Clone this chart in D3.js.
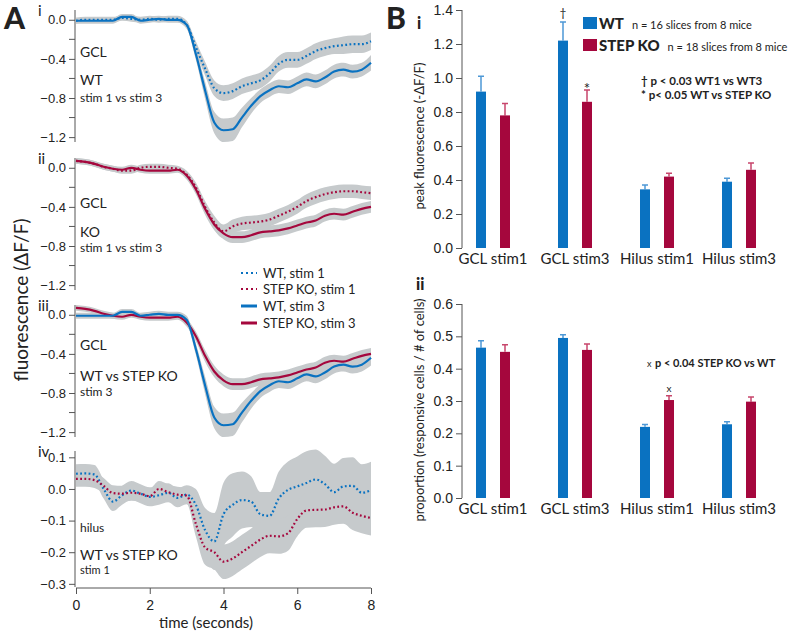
<!DOCTYPE html>
<html>
<head>
<meta charset="utf-8">
<script src="https://cdn.jsdelivr.net/npm/d3@7"></script>
<style>
body { margin: 0; background: #fff; }
svg { font-family: Lato, "Open Sans", sans-serif; }
</style>
</head>
<body>
<svg id="fig" width="800" height="637"></svg>
<script>
'use strict';

// ---- data: panel A traces (dF/F), sampled every 0.25 s ----
var times = [0, 0.25, 0.5, 0.75, 1, 1.25, 1.5, 1.75, 2, 2.25, 2.5, 2.75, 3, 3.25, 3.5, 3.75,
    4, 4.25, 4.5, 4.75, 5, 5.25, 5.5, 5.75, 6, 6.25, 6.5, 6.75, 7, 7.25, 7.5, 7.75, 8];

var gclWT1 = [-0.01, 0.0, 0.0, 0.0, 0.0, 0.02, 0.01, 0.0, 0.01, 0.0, 0.01, 0.01, -0.05, -0.28, -0.5, -0.7,
    -0.75, -0.73, -0.68, -0.65, -0.62, -0.55, -0.45, -0.41, -0.41, -0.37, -0.32, -0.29, -0.27, -0.26, -0.25, -0.25, -0.22];
var gclWT1Sem = [0.03, 0.03, 0.03, 0.03, 0.03, 0.03, 0.03, 0.03, 0.03, 0.03, 0.03, 0.03, 0.04, 0.06, 0.07, 0.08,
    0.08, 0.08, 0.08, 0.08, 0.08, 0.08, 0.08, 0.08, 0.08, 0.08, 0.08, 0.08, 0.08, 0.09, 0.09, 0.09, 0.09];

var gclWT3 = [-0.01, -0.01, -0.01, -0.01, -0.01, 0.03, 0.03, -0.01, 0.0, 0.01, 0.0, 0.0, -0.05, -0.35, -0.72, -1.05,
    -1.13, -1.12, -1.0, -0.88, -0.78, -0.72, -0.68, -0.69, -0.65, -0.61, -0.63, -0.59, -0.53, -0.51, -0.53, -0.51, -0.44];
var gclWT3Sem = [0.03, 0.03, 0.03, 0.03, 0.03, 0.03, 0.03, 0.03, 0.03, 0.03, 0.03, 0.03, 0.04, 0.06, 0.09, 0.11,
    0.12, 0.12, 0.1, 0.08, 0.07, 0.07, 0.07, 0.07, 0.07, 0.07, 0.07, 0.07, 0.07, 0.07, 0.07, 0.07, 0.08];

var gclKO1 = [0.07, 0.06, 0.04, 0.01, -0.01, -0.03, -0.03, 0.0, 0.01, 0.01, 0.0, -0.01, -0.07, -0.2, -0.4, -0.56,
    -0.65, -0.6, -0.57, -0.56, -0.55, -0.53, -0.49, -0.45, -0.4, -0.34, -0.3, -0.27, -0.25, -0.24, -0.24, -0.25, -0.26];
var gclKO1Sem = [0.03, 0.03, 0.03, 0.03, 0.03, 0.03, 0.03, 0.03, 0.03, 0.03, 0.03, 0.03, 0.04, 0.05, 0.06, 0.07,
    0.07, 0.07, 0.07, 0.07, 0.07, 0.07, 0.07, 0.07, 0.07, 0.07, 0.07, 0.07, 0.07, 0.07, 0.07, 0.07, 0.07];

var gclKO3 = [0.07, 0.06, 0.04, 0.01, -0.01, -0.02, 0.0, -0.02, -0.03, -0.03, -0.03, -0.02, -0.08, -0.22, -0.42, -0.58,
    -0.67, -0.71, -0.71, -0.69, -0.66, -0.65, -0.64, -0.62, -0.59, -0.56, -0.54, -0.49, -0.47, -0.48, -0.45, -0.42, -0.4];
var gclKO3Sem = [0.03, 0.03, 0.03, 0.03, 0.03, 0.03, 0.03, 0.03, 0.03, 0.03, 0.03, 0.03, 0.04, 0.05, 0.06, 0.06,
    0.06, 0.06, 0.06, 0.06, 0.06, 0.06, 0.06, 0.06, 0.06, 0.06, 0.06, 0.06, 0.06, 0.06, 0.06, 0.06, 0.06];

var hilWT1 = [0.048, 0.049, 0.046, 0.0, -0.04, -0.02, -0.005, -0.015, -0.025, -0.02, -0.012, -0.028, -0.018, -0.05, -0.13, -0.166,
    -0.08, -0.05, -0.035, -0.04, -0.08, -0.085, -0.03, -0.003, 0.008, 0.019, 0.03, 0.015, -0.01, 0.008, 0.01, -0.012, -0.004];
var hilWT1Sem = [0.03, 0.03, 0.03, 0.03, 0.03, 0.03, 0.03, 0.03, 0.03, 0.03, 0.03, 0.03, 0.03, 0.05, 0.07, 0.09,
    0.1, 0.1, 0.09, 0.08, 0.07, 0.075, 0.085, 0.09, 0.095, 0.1, 0.095, 0.09, 0.09, 0.09, 0.09, 0.09, 0.09];

var hilKO1 = [0.032, 0.032, 0.028, 0.01, -0.013, -0.015, -0.012, -0.015, -0.023, 0.0, -0.01, -0.018, -0.021, -0.11, -0.185, -0.2,
    -0.23, -0.22, -0.2, -0.18, -0.16, -0.148, -0.15, -0.14, -0.095, -0.068, -0.066, -0.065, -0.058, -0.055, -0.075, -0.085, -0.092];
var hilKO1Sem = [0.025, 0.025, 0.025, 0.025, 0.025, 0.025, 0.025, 0.025, 0.025, 0.025, 0.025, 0.025, 0.025, 0.04, 0.055, 0.055,
    0.055, 0.055, 0.055, 0.055, 0.055, 0.055, 0.055, 0.055, 0.055, 0.055, 0.055, 0.055, 0.055, 0.055, 0.055, 0.055, 0.055];

var timeTicks = [0, 2, 4, 6, 8];
var gclTicks = [0, -0.4, -0.8, -1.2];
var gclMinorTicks = [-0.2, -0.6, -1.0];
var hilTicks = [0.1, 0, -0.1, -0.2, -0.3];

// ---- data: panel B bars ----
var groups = ["GCL stim1", "GCL stim3", "Hilus stim1", "Hilus stim3"];
var peakWT = [0.92, 1.22, 0.345, 0.39];
var peakWTErr = [0.09, 0.11, 0.025, 0.02];
var peakKO = [0.78, 0.86, 0.42, 0.46];
var peakKOErr = [0.07, 0.07, 0.02, 0.04];
var propWT = [0.465, 0.495, 0.22, 0.228];
var propWTErr = [0.021, 0.01, 0.007, 0.008];
var propKO = [0.452, 0.458, 0.303, 0.298];
var propKOErr = [0.022, 0.018, 0.013, 0.014];
var peakTicks = [0, 0.2, 0.4, 0.6, 0.8, 1.0, 1.2, 1.4];
var propTicks = [0, 0.1, 0.2, 0.3, 0.4, 0.5, 0.6];

var BLUE = "#0a72c1";
var RED = "#a5073d";
var BLUE_ERR = "#4d98d6";
var RED_ERR = "#c8466c";
var BAND = "#c6cacc";
var INK = "#222";

var svg = d3.select("#fig");

// ================= panel A =================
var x = d3.scaleLinear().domain([0, 8]).range([76, 371]);

function tsPoints(vals, sem) {
    return times.map(function (t, i) { return { t: t, v: vals[i], s: sem[i] }; });
}

function drawTracePanel(cfg) {
    var y = d3.scaleLinear().domain(cfg.domain).range(cfg.range);
    var g = svg.append("g");

    var area = d3.area()
        .curve(d3.curveMonotoneX)
        .x(function (d) { return x(d.t); })
        .y0(function (d) { return y(d.v - d.s); })
        .y1(function (d) { return y(d.v + d.s); });

    var line = d3.line()
        .curve(d3.curveMonotoneX)
        .x(function (d) { return x(d.t); })
        .y(function (d) { return y(d.v); });

    cfg.series.forEach(function (s) {
        g.append("path").attr("d", area(tsPoints(s.vals, s.sem)))
            .attr("fill", BAND).attr("stroke", "none");
    });
    cfg.series.forEach(function (s) {
        g.append("path").attr("d", line(tsPoints(s.vals, s.sem)))
            .attr("fill", "none")
            .attr("stroke", s.color)
            .attr("stroke-width", 2.2)
            .attr("stroke-dasharray", s.dotted ? "1.8,2.4" : null);
    });

    var ax = g.append("g").attr("transform", "translate(75,0)")
        .call(d3.axisLeft(y).tickValues(cfg.ticks).tickSize(6).tickPadding(3)
            .tickFormat(d3.format(".1f")));
    ax.select(".domain").attr("d", "M0," + cfg.range[0] + "V" + cfg.range[1]).attr("stroke", "#555");
    ax.selectAll(".tick line").attr("stroke", "#555");
    ax.selectAll("text").attr("font-size", 13).attr("fill", INK);
    if (cfg.minor) {
        ax.selectAll(".minor").data(cfg.minor).enter().append("line")
            .attr("x1", -6).attr("x2", 0)
            .attr("y1", function (d) { return y(d); })
            .attr("y2", function (d) { return y(d); })
            .attr("stroke", "#555");
    }

    g.append("text").attr("x", 38).attr("y", cfg.range[0] + 6)
        .attr("font-size", 15).attr("fill", INK).text(cfg.numeral);

    cfg.notes.forEach(function (n) {
        g.append("text").attr("x", 80).attr("y", n.y)
            .attr("font-size", n.size).attr("fill", INK).text(n.text);
    });
    return y;
}

drawTracePanel({
    domain: [0.1, -1.25], range: [10, 142], ticks: gclTicks, minor: gclMinorTicks, numeral: "i",
    series: [
        { vals: gclWT1, sem: gclWT1Sem, color: BLUE, dotted: true },
        { vals: gclWT3, sem: gclWT3Sem, color: BLUE, dotted: false }
    ],
    notes: [
        { text: "GCL", y: 57, size: 14 },
        { text: "WT", y: 85, size: 14 },
        { text: "stim 1 vs stim 3", y: 102, size: 12 }
    ]
});

drawTracePanel({
    domain: [0.1, -1.25], range: [158, 290], ticks: gclTicks, minor: gclMinorTicks, numeral: "ii",
    series: [
        { vals: gclKO1, sem: gclKO1Sem, color: RED, dotted: true },
        { vals: gclKO3, sem: gclKO3Sem, color: RED, dotted: false }
    ],
    notes: [
        { text: "GCL", y: 208, size: 14 },
        { text: "KO", y: 237, size: 14 },
        { text: "stim 1 vs stim 3", y: 252, size: 12 }
    ]
});

drawTracePanel({
    domain: [0.1, -1.25], range: [305, 437], ticks: gclTicks, minor: gclMinorTicks, numeral: "iii",
    series: [
        { vals: gclKO3, sem: gclKO3Sem, color: RED, dotted: false },
        { vals: gclWT3, sem: gclWT3Sem, color: BLUE, dotted: false }
    ],
    notes: [
        { text: "GCL", y: 350, size: 14 },
        { text: "WT vs STEP KO", y: 381, size: 14 },
        { text: "stim 3", y: 396, size: 12 }
    ]
});

drawTracePanel({
    domain: [0.12, -0.31], range: [451, 587], ticks: hilTicks, minor: null, numeral: "iv",
    series: [
        { vals: hilWT1, sem: hilWT1Sem, color: BLUE, dotted: true },
        { vals: hilKO1, sem: hilKO1Sem, color: RED, dotted: true }
    ],
    notes: [
        { text: "hilus", y: 532, size: 12 },
        { text: "WT vs STEP KO", y: 560, size: 14 },
        { text: "stim 1", y: 574, size: 11 }
    ]
});

// time axis
var xAx = svg.append("g").attr("transform", "translate(0,588)")
    .call(d3.axisBottom(x).tickValues(timeTicks).tickSize(6).tickPadding(6).tickFormat(d3.format("d")));
xAx.select(".domain").attr("d", "M" + x(0) + ",0H" + x(8)).attr("stroke", "#555");
xAx.selectAll(".tick line").attr("stroke", "#555");
xAx.selectAll("text").attr("font-size", 14).attr("fill", INK);
svg.append("text").attr("x", 206).attr("y", 628).attr("text-anchor", "middle")
    .attr("font-size", 15).attr("fill", INK).text("time (seconds)");

svg.append("text").attr("transform", "translate(28,300) rotate(-90)")
    .attr("text-anchor", "middle").attr("font-size", 19).attr("fill", INK)
    .text("fluorescence (\u0394F/F)");

svg.append("text").attr("x", 4).attr("y", 29).attr("font-size", 30)
    .attr("font-weight", 900).attr("fill", INK).text("A");

// legend for A
var legendA = [
    { label: "WT, stim 1", color: BLUE, dotted: true, y: 273 },
    { label: "STEP KO, stim 1", color: RED, dotted: true, y: 289 },
    { label: "WT, stim 3", color: BLUE, dotted: false, y: 306 },
    { label: "STEP KO, stim 3", color: RED, dotted: false, y: 323 }
];
legendA.forEach(function (d) {
    svg.append("line").attr("x1", 241).attr("x2", 257).attr("y1", d.y).attr("y2", d.y)
        .attr("stroke", d.color).attr("stroke-width", d.dotted ? 2.2 : 3)
        .attr("stroke-dasharray", d.dotted ? "2,3" : null);
    svg.append("text").attr("x", 263).attr("y", d.y + 5).attr("font-size", 13)
        .attr("fill", INK).text(d.label);
});

// ================= panel B =================
var gx = d3.scaleBand().domain(groups).range([452, 780]);
var sub = d3.scalePoint().domain(["WT", "KO"]).range([-12, 12]);
var BAR_W = 10;

function drawBarPanel(cfg) {
    var y = d3.scaleLinear().domain(cfg.domain).range(cfg.range);
    var g = svg.append("g");
    var rows = [];
    groups.forEach(function (grp, i) {
        rows.push({ grp: grp, key: "WT", v: cfg.wt[i], e: cfg.wtErr[i], color: BLUE, ecol: BLUE_ERR });
        rows.push({ grp: grp, key: "KO", v: cfg.ko[i], e: cfg.koErr[i], color: RED, ecol: RED_ERR });
    });
    function cx(d) { return gx(d.grp) + gx.bandwidth() / 2 + sub(d.key); }

    g.selectAll(".err").data(rows).enter().append("path")
        .attr("d", function (d) {
            var c = cx(d), top = y(d.v + d.e);
            return "M" + c + "," + y(d.v) + "V" + top + "M" + (c - 3) + "," + top + "H" + (c + 3);
        })
        .attr("stroke", function (d) { return d.ecol; }).attr("stroke-width", 1.5).attr("fill", "none");

    g.selectAll(".bar").data(rows).enter().append("rect")
        .attr("x", function (d) { return cx(d) - BAR_W / 2; })
        .attr("width", BAR_W)
        .attr("y", function (d) { return y(d.v); })
        .attr("height", function (d) { return y(0) - y(d.v); })
        .attr("fill", function (d) { return d.color; });

    var ax = g.append("g").attr("transform", "translate(462,0)")
        .call(d3.axisLeft(y).tickValues(cfg.ticks).tickSize(6).tickPadding(3).tickFormat(d3.format(".1f")));
    ax.select(".domain").attr("d", "M0," + cfg.range[1] + "V" + cfg.range[0]).attr("stroke", "#555");
    ax.selectAll(".tick line").attr("stroke", "#555");
    ax.selectAll("text").attr("font-size", 14).attr("fill", INK);

    g.selectAll(".cat").data(groups).enter().append("text")
        .attr("x", function (d) { return gx(d) + gx.bandwidth() / 2; })
        .attr("y", cfg.range[0] + 16)
        .attr("text-anchor", "middle").attr("font-size", 15).attr("fill", INK)
        .text(function (d) { return d; });

    g.append("text").attr("transform", "translate(424," + cfg.labelY + ") rotate(-90)")
        .attr("text-anchor", "middle").attr("font-size", 13).attr("fill", INK).text(cfg.label);

    g.append("text").attr("x", cfg.numX).attr("y", cfg.numY).attr("font-size", 16)
        .attr("font-weight", 900).attr("fill", INK).text(cfg.numeral);
    return { y: y, cx: cx };
}

var topB = drawBarPanel({
    domain: [0, 1.4], range: [248, 10], ticks: peakTicks,
    wt: peakWT, wtErr: peakWTErr, ko: peakKO, koErr: peakKOErr,
    label: "peak fluorescence (-\u0394F/F)", labelY: 136, numeral: "i", numX: 417, numY: 29
});

var botB = drawBarPanel({
    domain: [0, 0.6], range: [498, 304], ticks: propTicks,
    wt: propWT, wtErr: propWTErr, ko: propKO, koErr: propKOErr,
    label: "proportion (responsive cells / # of cells)", labelY: 410, numeral: "ii", numX: 416, numY: 290
});

svg.append("text").attr("x", 386).attr("y", 29).attr("font-size", 30)
    .attr("font-weight", 900).attr("fill", INK).text("B");

// significance marks
var gx3 = gx("GCL stim3") + gx.bandwidth() / 2;
svg.append("text").attr("x", gx3 + sub("WT")).attr("y", topB.y(peakWT[1] + peakWTErr[1]) - 5)
    .attr("text-anchor", "middle").attr("font-size", 12).attr("fill", INK).text("\u2020");
svg.append("text").attr("x", gx3 + sub("KO")).attr("y", topB.y(peakKO[1] + peakKOErr[1]) + 4)
    .attr("text-anchor", "middle").attr("font-size", 15).attr("fill", INK).text("*");
var gxh = gx("Hilus stim1") + gx.bandwidth() / 2;
svg.append("text").attr("x", gxh + sub("KO")).attr("y", botB.y(propKO[2] + propKOErr[2]) - 4)
    .attr("text-anchor", "middle").attr("font-size", 10).attr("fill", INK).text("x");

// legend for B
var legendB = [
    { name: "WT", n: "n = 16 slices from 8 mice", color: BLUE, y: 23 },
    { name: "STEP KO", n: "n = 18 slices from 8 mice", color: RED, y: 45 }
];
legendB.forEach(function (d) {
    svg.append("rect").attr("x", 583).attr("y", d.y - 6).attr("width", 14).attr("height", 12).attr("fill", d.color);
    var t = svg.append("text").attr("x", 599).attr("y", d.y + 6).attr("fill", INK);
    t.append("tspan").attr("font-size", 15).attr("font-weight", 900).text(d.name);
    t.append("tspan").attr("font-size", 11).attr("dx", 8).text(d.n);
});

var notes = [
    { text: "\u2020 p < 0.03 WT1 vs WT3", x: 641, y: 85, size: 11.5 },
    { text: "* p< 0.05 WT vs STEP KO", x: 641, y: 99, size: 11.5 },
    { text: "p < 0.04  STEP KO vs WT", x: 655, y: 367, size: 11 }
];
notes.forEach(function (n) {
    svg.append("text").attr("x", n.x).attr("y", n.y).attr("font-size", n.size)
        .attr("font-weight", 700).attr("fill", INK).text(n.text);
});
svg.append("text").attr("x", 647).attr("y", 367).attr("font-size", 9).attr("fill", INK).text("x");
</script>
</body>
</html>
